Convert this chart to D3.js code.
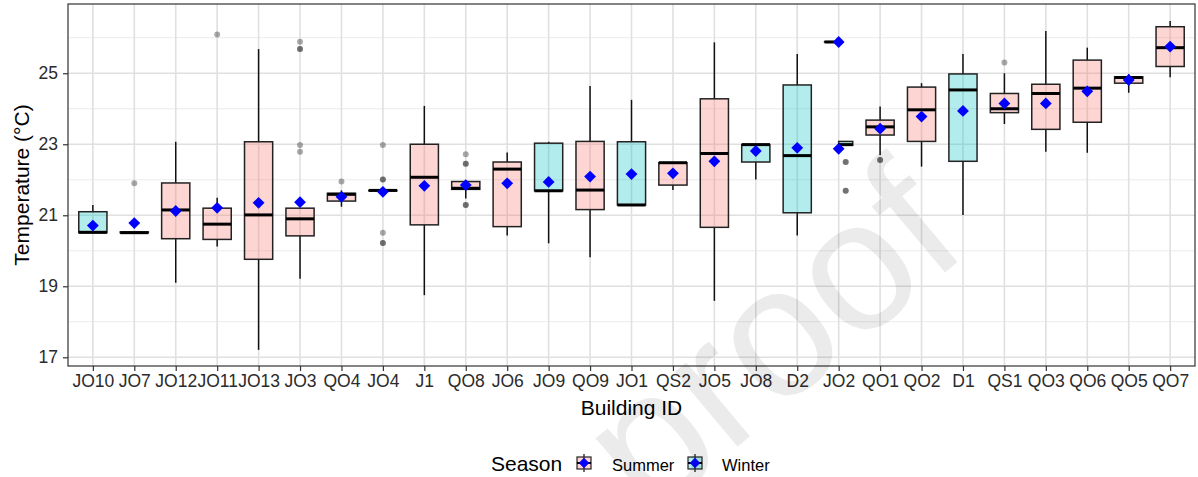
<!DOCTYPE html>
<html>
<head>
<meta charset="utf-8">
<script src="https://cdn.jsdelivr.net/npm/d3@7"></script>
<style>
  body { margin: 0; background: #fff; }
  text { font-family: "Liberation Sans", Arial, sans-serif; }
</style>
</head>
<body>
<svg id="chart" width="1198" height="477"></svg>
<script>
// building order on the x axis
var buildings = ["JO10","JO7","JO12","JO11","JO13","JO3","QO4","JO4","J1","QO8","JO6","JO9","QO9","JO1",
                 "QS2","JO5","JO8","D2","JO2","QO1","QO2","D1","QS1","QO3","QO6","QO5","QO7"];
// mean per building (blue diamonds)
var means = [20.71,20.78,21.12,21.21,21.35,21.37,21.52,21.66,21.83,21.85,21.90,21.94,22.09,22.16,
             22.18,22.52,22.81,22.90,[25.88,22.87],23.44,23.78,23.94,24.15,24.15,24.49,24.81,25.75];

// one entry per box (JO2 has a box for each season)
var boxBuilding = ["JO10","JO7","JO12","JO11","JO13","JO3","QO4","JO4","J1","QO8","JO6","JO9","QO9","JO1",
                   "QS2","JO5","JO8","D2","JO2","JO2","QO1","QO2","D1","QS1","QO3","QO6","QO5","QO7"];
var boxSeason = ["Winter","Summer","Summer","Summer","Summer","Summer","Summer","Summer","Summer","Summer","Summer","Winter","Summer","Winter",
                 "Summer","Summer","Winter","Winter","Summer","Winter","Summer","Summer","Winter","Summer","Summer","Summer","Summer","Summer"];
var lowWhisker = [20.51,20.51,19.10,20.12,17.21,19.21,21.24,21.68,18.75,21.47,20.43,20.21,19.82,21.29,
                  21.71,18.59,22.01,20.43,25.88,22.97,22.70,22.37,21.01,23.57,22.79,22.76,24.45,24.89];
var q1 = [20.51,20.51,20.34,20.32,19.76,20.42,21.40,21.69,20.73,21.73,20.68,21.69,21.16,21.29,
          21.85,20.66,22.50,21.07,25.88,22.97,23.26,23.08,22.52,23.89,23.42,23.62,24.72,25.19];
var median = [20.52,20.51,21.15,20.75,21.01,20.90,21.59,21.70,22.07,21.76,22.30,21.69,21.71,21.29,
              22.48,22.74,22.99,22.68,25.88,22.99,23.49,23.97,24.53,24.00,24.43,24.58,24.88,25.72];
var q3 = [21.10,20.53,21.91,21.20,23.07,21.20,21.62,21.70,23.00,21.95,22.50,23.03,23.08,23.07,
          22.48,24.28,22.99,24.67,25.89,23.08,23.68,24.61,24.98,24.43,24.69,25.37,24.90,26.31];
var highWhisker = [21.29,20.53,23.07,21.49,25.68,21.20,21.70,21.71,24.08,21.95,22.77,23.07,24.64,24.25,
                   22.48,25.87,22.99,25.54,25.89,23.08,24.06,24.72,25.54,25.00,26.19,25.72,24.98,26.47];
var outliers = [[],[21.90],[],[26.09],[],[25.89,25.68,25.68,22.98,22.79],[21.95],[22.01,22.01,22.98,20.51,20.22,20.22],
                [],[22.72,22.45,22.45,21.29,21.29],[],[],[],[],
                [],[],[],[],[],[22.50,22.50,21.69,21.69],[22.56,22.56],[],[],[25.30],[],[],[],[]];

var seasons = ["Summer","Winter"];
var yMajor = [17,19,21,23,25];
var yMinor = [18,20,22,24,26];

var svg = d3.select('#chart');
var padL = 68, padR = 1195, padT = 4, padB = 366;

var x = d3.scalePoint().domain(buildings).range([padL, padR]).padding(0.6);
var y = d3.scaleLinear().domain([16.755, 26.95]).range([padB, padT]);
var fillScale = d3.scaleOrdinal().domain(seasons).range(['#F8766D','#00BFC4']);
var boxW = x.step() * 0.68;

// grid
var grid = svg.append('g');
grid.selectAll('.minor').data(yMinor).enter().append('line')
    .attr('x1', padL).attr('x2', padR)
    .attr('y1', d => y(d)).attr('y2', d => y(d))
    .attr('stroke', '#ebebeb').attr('stroke-width', 1);
grid.selectAll('.major').data(yMajor).enter().append('line')
    .attr('x1', padL).attr('x2', padR)
    .attr('y1', d => y(d)).attr('y2', d => y(d))
    .attr('stroke', '#e0e0e0').attr('stroke-width', 1.6);
grid.selectAll('.vmajor').data(buildings).enter().append('line')
    .attr('x1', d => x(d)).attr('x2', d => x(d))
    .attr('y1', padT).attr('y2', padB)
    .attr('stroke', '#e0e0e0').attr('stroke-width', 1.6);

// box data
var boxes = boxBuilding.map(function(b, i) {
    return {b: b, season: boxSeason[i], lw: lowWhisker[i], q1: q1[i], med: median[i], q3: q3[i], hw: highWhisker[i], out: outliers[i]};
});
// dodge when a building has both seasons
boxes.forEach(function(d) {
    var same = boxes.filter(o => o.b == d.b);
    var k = same.length, idx = same.indexOf(d);
    d.w = boxW / k;
    d.cx = x(d.b) - boxW / 2 + d.w * (idx + 0.5);
});

var boxG = svg.append('g');
var bg = boxG.selectAll('g').data(boxes).enter().append('g');

bg.append('line')
  .attr('x1', d => d.cx).attr('x2', d => d.cx)
  .attr('y1', d => y(d.hw)).attr('y2', d => y(d.q3))
  .attr('stroke', '#111').attr('stroke-width', 1.5);
bg.append('line')
  .attr('x1', d => d.cx).attr('x2', d => d.cx)
  .attr('y1', d => y(d.q1)).attr('y2', d => y(d.lw))
  .attr('stroke', '#111').attr('stroke-width', 1.5);
bg.append('rect')
  .attr('x', d => d.cx - d.w / 2).attr('width', d => d.w)
  .attr('y', d => y(d.q3)).attr('height', d => Math.max(0, y(d.q1) - y(d.q3)))
  .attr('fill', d => fillScale(d.season)).attr('fill-opacity', 0.3)
  .attr('stroke', '#222').attr('stroke-width', 1.5);
bg.append('line')
  .attr('x1', d => d.cx - d.w / 2).attr('x2', d => d.cx + d.w / 2)
  .attr('y1', d => y(d.med)).attr('y2', d => y(d.med))
  .attr('stroke', '#000').attr('stroke-width', 3);

bg.selectAll('circle').data(d => d.out.map(v => ({cx: d.cx, v: v}))).enter().append('circle')
  .attr('cx', d => d.cx).attr('cy', d => y(d.v)).attr('r', 3)
  .attr('fill', '#000').attr('fill-opacity', 0.33);

// means
var diamond = d3.symbol().type(d3.symbolSquare).size(70);
var meanPts = [];
buildings.forEach(function(b, i) {
    [].concat(means[i]).forEach(function(m) { meanPts.push({b: b, m: m}); });
});
svg.append('g').selectAll('path').data(meanPts).enter().append('path')
   .attr('d', diamond)
   .attr('transform', d => 'translate(' + x(d.b) + ',' + y(d.m) + ') rotate(45)')
   .attr('fill', '#0000ff');

// panel border
svg.append('rect')
   .attr('x', padL).attr('y', padT).attr('width', padR - padL).attr('height', padB - padT)
   .attr('fill', 'none').attr('stroke', '#333').attr('stroke-width', 1.2);

// axes
var xAxis = svg.append('g').attr('transform', 'translate(0,' + padB + ')')
    .call(d3.axisBottom(x).tickSize(5).tickPadding(4));
var yAxis = svg.append('g').attr('transform', 'translate(' + padL + ',0)')
    .call(d3.axisLeft(y).tickValues(yMajor).tickSize(5).tickPadding(5));
[xAxis, yAxis].forEach(function(a) {
    a.select('.domain').remove();
    a.selectAll('.tick line').attr('stroke', '#333').attr('stroke-width', 1.2);
    a.selectAll('.tick text').attr('font-size', 17.5).attr('fill', '#2b2b2b')
     .attr('font-family', '"Liberation Sans", Arial, sans-serif');
});

svg.append('text')
   .attr('x', (padL + padR) / 2).attr('y', 415)
   .attr('text-anchor', 'middle').attr('font-size', 21).attr('fill', '#000')
   .text('Building ID');
svg.append('text')
   .attr('transform', 'translate(29,' + (padT + padB) / 2 + ') rotate(-90)')
   .attr('text-anchor', 'middle').attr('font-size', 21).attr('fill', '#000')
   .text('Temperature (°C)');

// legend
var legend = svg.append('g');
legend.append('text').attr('x', 491).attr('y', 471).attr('font-size', 21).text('Season');
var keyX = [577, 688];
var keys = legend.selectAll('.key').data(seasons).enter().append('g')
    .attr('transform', (d, i) => 'translate(' + keyX[i] + ',456)');
keys.append('line').attr('x1', 7).attr('x2', 7).attr('y1', -2).attr('y2', 16)
    .attr('stroke', '#111').attr('stroke-width', 1.2);
keys.append('rect').attr('x', 0).attr('y', 1).attr('width', 14).attr('height', 12)
    .attr('fill', d => fillScale(d)).attr('fill-opacity', 0.3)
    .attr('stroke', '#222').attr('stroke-width', 1.2);
keys.append('line').attr('x1', 0).attr('x2', 14).attr('y1', 7).attr('y2', 7)
    .attr('stroke', '#000').attr('stroke-width', 2);
keys.append('path').attr('d', d3.symbol().type(d3.symbolSquare).size(55))
    .attr('transform', 'translate(7,7) rotate(45)').attr('fill', '#0000ff');
keys.append('text').attr('x', (d, i) => i == 0 ? 35 : 34).attr('y', 15)
    .attr('font-size', 16.5).text(d => d);

// faint watermark over the page
svg.append('text')
   .attr('transform', 'translate(972,250) rotate(-40)')
   .attr('text-anchor', 'end')
   .attr('font-size', 185)
   .attr('fill', '#000').attr('fill-opacity', 0.08)
   .text('Journal Pre-proof');
</script>
</body>
</html>
